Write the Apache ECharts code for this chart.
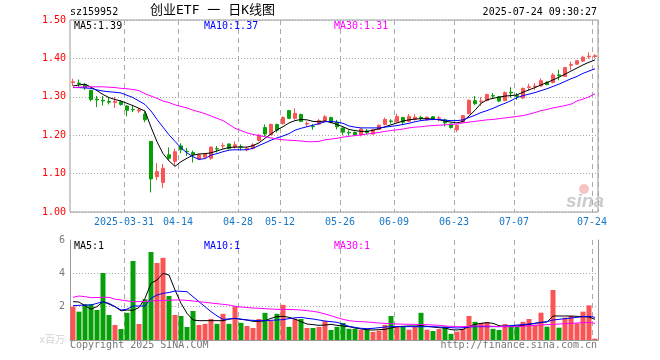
<!DOCTYPE html>
<html><head><meta charset="utf-8">
<script src="https://cdn.jsdelivr.net/npm/echarts@6/dist/echarts.min.js"></script>
<style>html,body{margin:0;padding:0;background:#fff}#c{width:660px;height:360px}</style>
</head><body><div id="c"></div>
<script>
const dates = [
'2025-03-18','2025-03-19','2025-03-20','2025-03-21','2025-03-24','2025-03-25','2025-03-26','2025-03-27','2025-03-28','2025-03-31',
'2025-04-01','2025-04-02','2025-04-03','2025-04-07','2025-04-08','2025-04-09','2025-04-10','2025-04-11','2025-04-14','2025-04-15',
'2025-04-16','2025-04-17','2025-04-18','2025-04-21','2025-04-22','2025-04-23','2025-04-24','2025-04-25','2025-04-28','2025-04-29',
'2025-04-30','2025-05-06','2025-05-07','2025-05-08','2025-05-09','2025-05-12','2025-05-13','2025-05-14','2025-05-15','2025-05-16',
'2025-05-19','2025-05-20','2025-05-21','2025-05-22','2025-05-23','2025-05-26','2025-05-27','2025-05-28','2025-05-29','2025-05-30',
'2025-06-03','2025-06-04','2025-06-05','2025-06-06','2025-06-09','2025-06-10','2025-06-11','2025-06-12','2025-06-13','2025-06-16',
'2025-06-17','2025-06-18','2025-06-19','2025-06-20','2025-06-23','2025-06-24','2025-06-25','2025-06-26','2025-06-27','2025-06-30',
'2025-07-01','2025-07-02','2025-07-03','2025-07-04','2025-07-07','2025-07-08','2025-07-09','2025-07-10','2025-07-11','2025-07-14',
'2025-07-15','2025-07-16','2025-07-17','2025-07-18','2025-07-21','2025-07-22','2025-07-23','2025-07-24'];

const openP = [1.337,1.336,1.332,1.317,1.294,1.291,1.288,1.285,1.287,1.276,
1.267,1.263,1.255,1.184,1.092,1.077,1.149,1.132,1.172,1.158,
1.155,1.138,1.143,1.140,1.165,1.172,1.177,1.169,1.170,1.162,
1.166,1.186,1.220,1.201,1.228,1.230,1.264,1.244,1.254,1.229,
1.223,1.229,1.236,1.246,1.234,1.219,1.207,1.207,1.201,1.211,
1.203,1.215,1.228,1.237,1.235,1.246,1.236,1.241,1.246,1.240,
1.248,1.244,1.240,1.229,1.214,1.234,1.256,1.290,1.288,1.290,
1.303,1.300,1.290,1.312,1.303,1.297,1.324,1.326,1.328,1.338,
1.337,1.357,1.353,1.382,1.385,1.393,1.404,1.405];
const closeP = [1.339,1.334,1.324,1.293,1.292,1.289,1.286,1.288,1.280,1.265,
1.266,1.266,1.240,1.086,1.105,1.114,1.140,1.157,1.162,1.157,
1.149,1.149,1.151,1.169,1.164,1.173,1.165,1.175,1.169,1.166,
1.175,1.200,1.203,1.228,1.213,1.246,1.244,1.257,1.236,1.231,
1.222,1.238,1.248,1.233,1.222,1.208,1.206,1.201,1.216,1.207,
1.214,1.226,1.241,1.236,1.249,1.234,1.249,1.247,1.244,1.247,
1.241,1.245,1.232,1.220,1.225,1.251,1.291,1.282,1.289,1.306,
1.302,1.289,1.311,1.310,1.301,1.322,1.326,1.328,1.342,1.332,
1.357,1.355,1.376,1.384,1.394,1.403,1.406,1.407];
const lowP = [1.328,1.326,1.318,1.288,1.273,1.277,1.280,1.271,1.277,1.249,
1.260,1.258,1.234,1.051,1.083,1.063,1.135,1.120,1.153,1.146,
1.129,1.135,1.140,1.136,1.155,1.164,1.163,1.165,1.160,1.158,
1.163,1.184,1.197,1.200,1.207,1.228,1.242,1.240,1.234,1.222,
1.214,1.226,1.234,1.231,1.215,1.200,1.199,1.198,1.197,1.202,
1.201,1.213,1.226,1.230,1.233,1.226,1.234,1.238,1.237,1.237,
1.239,1.236,1.223,1.217,1.208,1.232,1.254,1.278,1.276,1.289,
1.295,1.286,1.289,1.298,1.292,1.294,1.316,1.318,1.327,1.330,
1.335,1.343,1.352,1.370,1.383,1.391,1.399,1.400];
const highP = [1.347,1.345,1.335,1.318,1.302,1.302,1.297,1.300,1.290,1.278,
1.276,1.271,1.262,1.184,1.127,1.125,1.168,1.165,1.179,1.167,
1.160,1.152,1.153,1.170,1.172,1.180,1.179,1.184,1.176,1.170,
1.179,1.203,1.228,1.230,1.230,1.249,1.266,1.270,1.256,1.236,
1.229,1.242,1.252,1.248,1.240,1.220,1.213,1.210,1.218,1.216,
1.216,1.228,1.246,1.242,1.256,1.248,1.255,1.255,1.251,1.249,
1.250,1.250,1.243,1.231,1.227,1.253,1.293,1.302,1.299,1.308,
1.310,1.302,1.314,1.325,1.310,1.324,1.334,1.336,1.348,1.340,
1.362,1.370,1.378,1.392,1.396,1.407,1.416,1.411];

const ma5 = [1.328,1.331,1.333,1.325,1.316,1.306,1.298,1.293,1.289,1.283,
1.277,1.270,1.263,1.221,1.183,1.152,1.133,1.119,1.131,1.140,
1.148,1.151,1.152,1.154,1.159,1.164,1.168,1.169,1.169,1.169,
1.173,1.180,1.192,1.203,1.214,1.222,1.232,1.238,1.241,1.240,
1.236,1.235,1.237,1.233,1.228,1.222,1.215,1.212,1.210,1.210,
1.213,1.217,1.222,1.227,1.232,1.237,1.240,1.242,1.243,1.243,
1.242,1.240,1.237,1.234,1.232,1.236,1.250,1.265,1.283,1.292,
1.296,1.299,1.302,1.303,1.305,1.312,1.318,1.324,1.331,1.337,
1.344,1.351,1.359,1.367,1.375,1.383,1.390,1.396];
const ma10 = [1.324,1.324,1.323,1.322,1.318,1.315,1.313,1.312,1.310,1.304,
1.298,1.289,1.280,1.263,1.241,1.221,1.201,1.184,1.167,1.154,
1.144,1.137,1.139,1.148,1.152,1.157,1.161,1.162,1.162,1.162,
1.166,1.173,1.180,1.187,1.193,1.198,1.204,1.213,1.218,1.222,
1.226,1.230,1.235,1.236,1.234,1.231,1.224,1.221,1.219,1.219,
1.219,1.219,1.221,1.223,1.225,1.228,1.231,1.235,1.238,1.240,
1.241,1.241,1.239,1.238,1.238,1.240,1.246,1.252,1.259,1.264,
1.270,1.277,1.283,1.290,1.298,1.303,1.307,1.311,1.316,1.321,
1.327,1.333,1.340,1.347,1.353,1.361,1.367,1.373];
const ma30 = [1.324,1.325,1.326,1.326,1.326,1.326,1.325,1.324,1.322,1.321,
1.319,1.316,1.308,1.302,1.296,1.289,1.285,1.279,1.275,1.271,
1.265,1.261,1.256,1.250,1.244,1.238,1.228,1.218,1.212,1.206,
1.202,1.199,1.196,1.193,1.190,1.188,1.187,1.186,1.185,1.183,
1.183,1.184,1.188,1.190,1.192,1.195,1.197,1.199,1.201,1.203,
1.205,1.207,1.210,1.212,1.214,1.216,1.219,1.221,1.222,1.224,
1.225,1.226,1.227,1.228,1.229,1.232,1.234,1.236,1.238,1.240,
1.241,1.243,1.245,1.247,1.249,1.251,1.255,1.259,1.264,1.267,
1.271,1.274,1.277,1.281,1.289,1.294,1.300,1.308];

const volume = [2.0,1.7,2.15,2.15,1.8,4.02,1.5,0.9,0.66,1.63,
4.74,0.96,2.45,5.28,4.62,4.93,2.64,1.5,1.44,0.78,
1.74,0.9,0.97,1.26,0.97,1.57,0.97,2.0,1.03,0.84,
0.72,1.26,1.63,1.14,1.57,2.11,0.79,1.26,1.26,0.72,
0.72,0.78,1.14,0.6,0.79,1.02,0.67,0.67,0.6,0.6,
0.49,0.56,0.91,1.44,0.79,0.79,0.62,0.79,1.63,0.62,
0.54,0.66,0.82,0.37,0.5,0.66,1.44,1.09,1.02,1.07,
0.67,0.6,0.96,0.82,0.8,1.09,1.26,0.92,1.64,0.8,
3.0,0.74,1.34,1.44,1.0,1.7,2.08,0.08];
const volMa5 = [2.30,2.28,2.05,1.85,2.0,2.3,2.15,2.0,1.75,1.8,
1.78,1.95,2.5,3.4,3.6,4.0,3.9,3.0,2.2,1.6,
1.2,1.16,1.16,1.16,1.16,1.16,1.25,1.3,1.24,1.2,
1.12,1.12,1.16,1.3,1.4,1.42,1.36,1.25,1.1,0.96,
0.92,0.88,0.9,0.94,0.88,0.84,0.8,0.72,0.66,0.62,
0.6,0.62,0.64,0.72,0.8,0.82,0.84,0.84,0.86,0.82,
0.78,0.74,0.72,0.62,0.6,0.64,0.8,0.94,1.0,1.04,
1.0,0.86,0.8,0.84,0.84,0.88,0.94,1.0,1.06,1.08,
1.44,1.44,1.44,1.44,1.42,1.4,1.38,1.24];
const volMa10 = [2.06,2.08,2.1,2.1,2.2,2.3,2.2,2.0,1.8,1.85,
2.04,2.04,2.04,2.5,2.7,2.8,2.85,2.94,2.92,2.9,
2.6,2.3,2.0,1.7,1.45,1.24,1.26,1.3,1.25,1.2,
1.18,1.16,1.16,1.18,1.2,1.22,1.28,1.33,1.36,1.3,
1.26,1.2,1.14,1.1,1.06,0.95,0.82,0.76,0.7,0.68,
0.7,0.74,0.78,0.8,0.8,0.8,0.8,0.8,0.8,0.8,
0.8,0.78,0.76,0.74,0.72,0.74,0.78,0.8,0.8,0.8,
0.8,0.8,0.84,0.86,0.9,0.92,0.96,1.0,1.05,1.1,
1.2,1.24,1.28,1.32,1.36,1.4,1.42,1.36];
const volMa30 = [2.56,2.64,2.6,2.54,2.55,2.56,2.56,2.45,2.4,2.35,
2.3,2.3,2.32,2.34,2.36,2.37,2.38,2.4,2.4,2.38,
2.34,2.3,2.26,2.22,2.18,2.14,2.1,2.02,1.98,1.95,
1.92,1.9,1.88,1.86,1.84,1.84,1.83,1.82,1.8,1.76,
1.72,1.66,1.56,1.46,1.34,1.24,1.16,1.12,1.1,1.08,
1.05,1.02,1.0,0.98,0.96,0.95,0.94,0.94,0.93,0.92,
0.9,0.88,0.84,0.82,0.8,0.8,0.82,0.84,0.84,0.84,
0.82,0.8,0.8,0.8,0.8,0.82,0.85,0.88,0.9,0.92,
0.94,0.96,0.98,1.0,1.02,1.04,1.06,1.0];

const tickDates = ['2025-03-31','2025-04-14','2025-04-28','2025-05-12','2025-05-26','2025-06-09','2025-06-23','2025-07-07','2025-07-24'];
const tickLabels = ['2025-03-31','04-14','04-28','05-12','05-26','06-09','06-23','07-07','07-24'];

const upColor = '#fa5454', downColor = '#08a008';
const mono = "'DejaVu Sans Mono', monospace";
const monoCJK = "'DejaVu Sans Mono','Noto Sans CJK SC', monospace";
const isTick = (i, v) => tickDates.indexOf(v) >= 0;
const dashV = {show: true, interval: isTick, lineStyle: {color: '#aaa', type: [5, 4], width: 1}};

const candles = dates.map((d, i) => [openP[i], closeP[i], lowP[i], highP[i]]);
const volData = volume.map((v, i) => ({value: v, itemStyle: {color: closeP[i] >= openP[i] ? upColor : downColor}}));

const chart = echarts.init(document.getElementById('c'));
const lineS = (data, color, xi, yi) => ({type: 'line', data, xAxisIndex: xi, yAxisIndex: yi, symbol: 'none', silent: true,
  lineStyle: {color, width: 1}, itemStyle: {color}, z: 5});

chart.setOption({
  animation: false,
  backgroundColor: '#fff',
  grid: [
    {left: 70, right: 62, top: 20, height: 192, show: true, borderColor: '#999', borderWidth: 1},
    {left: 70, right: 62, top: 240, height: 100}
  ],
  xAxis: [
    {type: 'category', gridIndex: 0, data: dates, boundaryGap: true,
     axisLine: {show: false}, axisTick: {show: false},
     axisLabel: {interval: isTick, formatter: v => tickLabels[tickDates.indexOf(v)], color: '#1878c8',
       fontFamily: mono, fontSize: 10, margin: 5, padding: [0, 6, 0, 0]},
     splitLine: dashV},
    {type: 'category', gridIndex: 1, data: dates, boundaryGap: true, position: 'top',
     axisLine: {show: true, lineStyle: {color: '#999'}}, axisTick: {show: false}, axisLabel: {show: false},
     splitLine: dashV}
  ],
  yAxis: [
    {type: 'value', gridIndex: 0, min: 1.0, max: 1.5, interval: 0.1,
     axisLine: {show: false}, axisTick: {show: false},
     axisLabel: {color: '#ff0000', fontFamily: mono, fontSize: 10, margin: 4, formatter: v => v.toFixed(2)},
     splitLine: {show: true, lineStyle: {color: '#aaa', type: [1, 2]}}},
    {type: 'value', gridIndex: 1, min: 0, max: 6, interval: 2,
     axisLine: {show: true, lineStyle: {color: '#999'}}, axisTick: {show: false},
     axisLabel: {color: '#777', fontFamily: mono, fontSize: 10, margin: 5,
       formatter: v => v === 0 ? '{u|x百万}' : String(v),
       rich: {u: {color: '#d4d4d4', fontFamily: monoCJK, fontSize: 10}}},
     splitLine: {show: true, showMinLine: false, showMaxLine: false, lineStyle: {color: '#aaa', type: [1, 2]}}},
    {type: 'value', gridIndex: 1, position: 'right', min: 0, max: 6,
     axisLine: {show: true, lineStyle: {color: '#999'}}, axisTick: {show: false},
     axisLabel: {show: false}, splitLine: {show: false}}
  ],
  series: [
    {type: 'candlestick', xAxisIndex: 0, yAxisIndex: 0, data: candles, barWidth: 4, silent: true,
     itemStyle: {color: upColor, color0: downColor, borderColor: upColor, borderColor0: downColor, borderWidth: 1}},
    lineS(ma5, '#000000', 0, 0),
    lineS(ma10, '#0000ff', 0, 0),
    lineS(ma30, '#ff00ff', 0, 0),
    {type: 'bar', xAxisIndex: 1, yAxisIndex: 1, data: volData, barWidth: 5, silent: true},
    lineS(volMa5, '#000000', 1, 1),
    lineS(volMa10, '#0000ff', 1, 1),
    lineS(volMa30, '#ff00ff', 1, 1)
  ],
  graphic: [
    {type: 'text', left: 70, top: 7, style: {text: 'sz159952', fill: '#000', font: '10px ' + mono}},
    {type: 'text', left: 150, top: 4, style: {text: '创业ETF 一 日K线图', fill: '#000', font: '13px ' + monoCJK}},
    {type: 'text', right: 63, top: 7, style: {text: '2025-07-24 09:30:27', fill: '#000', font: '10px ' + mono}},
    {type: 'text', left: 74, top: 21, style: {text: 'MA5:1.39', fill: '#000', font: '10px ' + mono}},
    {type: 'text', left: 204, top: 21, style: {text: 'MA10:1.37', fill: '#0000ff', font: '10px ' + mono}},
    {type: 'text', left: 334, top: 21, style: {text: 'MA30:1.31', fill: '#ff00ff', font: '10px ' + mono}},
    {type: 'text', left: 74, top: 241, style: {text: 'MA5:1', fill: '#000', font: '10px ' + mono}},
    {type: 'text', left: 204, top: 241, style: {text: 'MA10:1', fill: '#0000ff', font: '10px ' + mono}},
    {type: 'text', left: 334, top: 241, style: {text: 'MA30:1', fill: '#ff00ff', font: '10px ' + mono}},
    {type: 'text', left: 70, top: 340, style: {text: 'Copyright 2025 SINA.COM', fill: '#777', font: '10px ' + mono}},
    {type: 'text', right: 63, top: 340, style: {text: 'http://finance.sina.com.cn', fill: '#777', font: '10px ' + mono}},
    {type: 'circle', shape: {cx: 584, cy: 189, r: 5}, style: {fill: '#f7c4c4'}, silent: true},
    {type: 'text', left: 566, top: 192, style: {text: 'sina', fill: '#cccccc', font: 'italic bold 19px "Liberation Sans"'}}
  ]
});
</script>
</body></html>
